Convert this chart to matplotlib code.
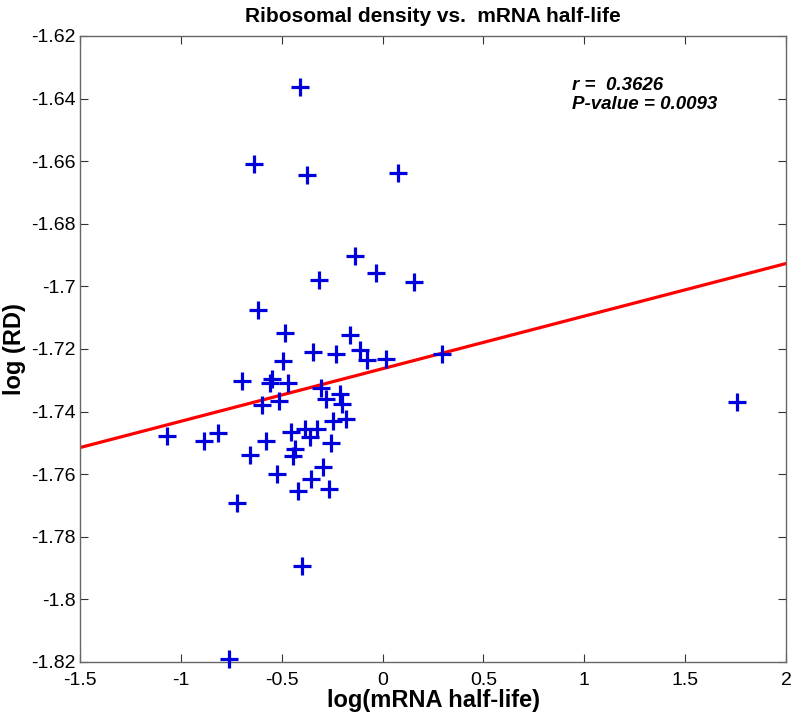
import numpy as np
import matplotlib
matplotlib.use('Agg')
from matplotlib import pyplot as plt
import matplotlib.ticker as ticker

plt.rcParams['font.family'] = ['Liberation Sans', 'DejaVu Sans']
plt.rcParams['axes.unicode_minus'] = False

# log(mRNA half-life) vs log(RD)
half_life = [-0.411, -0.639, -0.375, 0.076, -0.135, -0.035, -0.317, 0.158,
             -0.617, -0.482, -0.160, -0.345, -0.229, -0.114, -0.078, 0.018,
             0.296, -0.495, -0.469, -0.695, -0.559, -0.546, -0.600, -0.513,
             -0.303, -0.279, -0.213, -0.199, -0.180, -0.246, -1.071, -0.886,
             -0.815, -0.579, -0.658, -0.453, -0.386, -0.361, -0.325, -0.255,
             -0.436, -0.444, -0.295, -0.526, -0.353, -0.266, -0.419, -0.721,
             -0.399, -0.762, 1.757]
rd = [-1.6362, -1.6608, -1.6643, -1.6637, -1.6902, -1.6956, -1.6980, -1.6987,
      -1.7075, -1.7148, -1.7155, -1.7211, -1.7216, -1.7203, -1.7236, -1.7231,
      -1.7217, -1.7238, -1.7309, -1.7302, -1.7308, -1.7295, -1.7379, -1.7366,
      -1.7325, -1.7361, -1.7345, -1.7376, -1.7425, -1.7430, -1.7478, -1.7494,
      -1.7467, -1.7494, -1.7539, -1.7464, -1.7455, -1.7480, -1.7455, -1.7500,
      -1.7519, -1.7543, -1.7576, -1.7599, -1.7615, -1.7646, -1.7654, -1.7691,
      -1.7893, -1.8191, -1.7369]

# regression line
slope = 0.0168
intercept = -1.7263
r_value = 0.3626
p_value = 0.0093

fig = plt.figure(figsize=(7.94, 7.19), dpi=100)
ax = fig.add_axes((0.1008, 0.0793, 0.8892, 0.8707))

xl = np.array([-1.5, 2.0])
ax.plot(xl, slope * xl + intercept, color='red', lw=2.3, zorder=2)
ax.plot(half_life, rd, linestyle='none', marker='+', color='#0000dd',
        markersize=12.5, markeredgewidth=2.3, clip_on=False, zorder=3)

ax.set_xlim(-1.5, 2)
ax.set_ylim(-1.82, -1.62)
ax.set_xticks(np.arange(-1.5, 2.01, 0.5))
ax.set_yticks(np.arange(-1.82, -1.619, 0.02))
ax.xaxis.set_major_formatter(ticker.FormatStrFormatter('%g'))
ax.yaxis.set_major_formatter(ticker.FuncFormatter(lambda v, p: '%g' % round(v, 2)))
ax.tick_params(direction='in', length=6, width=0.8, color='#333333',
               labelsize=14, top=True, right=True, pad=3)
ax.tick_params(axis='x', pad=7)
for s in ax.spines.values():
    s.set_color('#666666')
    s.set_linewidth(1.0)

ax.set_title('Ribosomal density vs.  mRNA half-life', fontsize=15,
             fontweight='bold', pad=10)
ax.set_xlabel('log(mRNA half-life)', fontsize=17, fontweight='bold', labelpad=0)
ax.set_ylabel('log (RD)', fontsize=17, fontweight='bold', labelpad=4)

ax.text(0.697, 0.934, 'r =  %.4f\nP-value = %.4f' % (r_value, p_value),
        transform=ax.transAxes, fontsize=13.5, fontweight='bold',
        style='italic', va='top', ha='left', linespacing=1.15)

fig.savefig('out.png', dpi=100)
